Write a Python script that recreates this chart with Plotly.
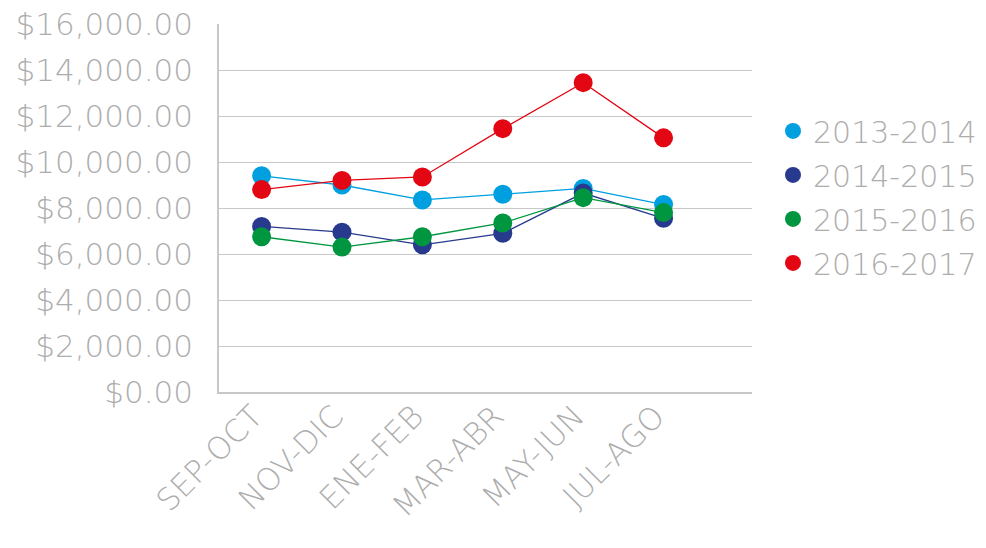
import plotly.graph_objects as go

categories = ["SEP-OCT", "NOV-DIC", "ENE-FEB", "MAR-ABR", "MAY-JUN", "JUL-AGO"]
series_names = ["2013-2014", "2014-2015", "2015-2016", "2016-2017"]
v_2013_2014 = [9400, 9000, 8350, 8600, 8850, 8150]
v_2014_2015 = [7200, 6950, 6400, 6900, 8650, 7550]
v_2015_2016 = [6750, 6300, 6750, 7350, 8450, 7800]
v_2016_2017 = [8800, 9200, 9350, 11450, 13450, 11050]
y_ticks = [0, 2000, 4000, 6000, 8000, 10000, 12000, 14000, 16000]
y_tick_labels = ["$0.00", "$2,000.00", "$4,000.00", "$6,000.00", "$8,000.00",
                 "$10,000.00", "$12,000.00", "$14,000.00", "$16,000.00"]

colors = ["#009FDF", "#283A8E", "#009640", "#E30613"]
values = [v_2013_2014, v_2014_2015, v_2015_2016, v_2016_2017]

FONT = "DejaVu Sans"
GRAY = "#ADADAD"

fig = go.Figure()
for name, vals, col in zip(series_names, values, colors):
    fig.add_trace(go.Scatter(
        x=list(range(len(categories))), y=vals, mode="lines+markers", name=name,
        line=dict(color=col, width=1.3),
        marker=dict(color=col, size=19),
        showlegend=False,
    ))
for name, col in zip(series_names, colors):
    fig.add_trace(go.Scatter(
        x=[None], y=[None], mode="markers", name=name, legendgroup=name,
        marker=dict(color=col, size=19),
    ))

fig.update_layout(
    width=978, height=540,
    margin=dict(l=211, r=234, t=16, b=156),
    paper_bgcolor="white", plot_bgcolor="white",
    font=dict(family=FONT, color=GRAY, size=30, weight=300),
    legend=dict(x=0.7822, xanchor="left", xref="container", yref="paper",
                y=0.53, yanchor="middle",
                font=dict(size=30, color=GRAY, family=FONT, weight=300),
                itemwidth=30, tracegroupgap=2, bgcolor="rgba(0,0,0,0)"),
    xaxis=dict(
        tickmode="array", tickvals=list(range(len(categories))), ticktext=categories,
        range=[-0.53, 6.1], tickangle=-45, showgrid=False, zeroline=False,
        showline=True, linecolor="#C8C8C8", linewidth=1.5,
        tickfont=dict(size=31, color=GRAY, family=FONT, weight=300),
        ticks="", fixedrange=True, automargin=False,
        ticklabelstandoff=-8, ticklabelshift=-8, ticklabeloverflow="allow",
    ),
    yaxis=dict(
        tickmode="array", tickvals=y_ticks, ticktext=y_tick_labels,
        range=[0, 16000], showgrid=True, gridcolor="#C8C8C8", gridwidth=1.2,
        zeroline=False, showline=True, linecolor="#C8C8C8", linewidth=1.5,
        tickfont=dict(size=31, color=GRAY, family=FONT, weight=300),
        ticks="", ticklabelstandoff=18, automargin=False, ticklabeloverflow="allow",
    ),
)

fig.write_html("out.html")
